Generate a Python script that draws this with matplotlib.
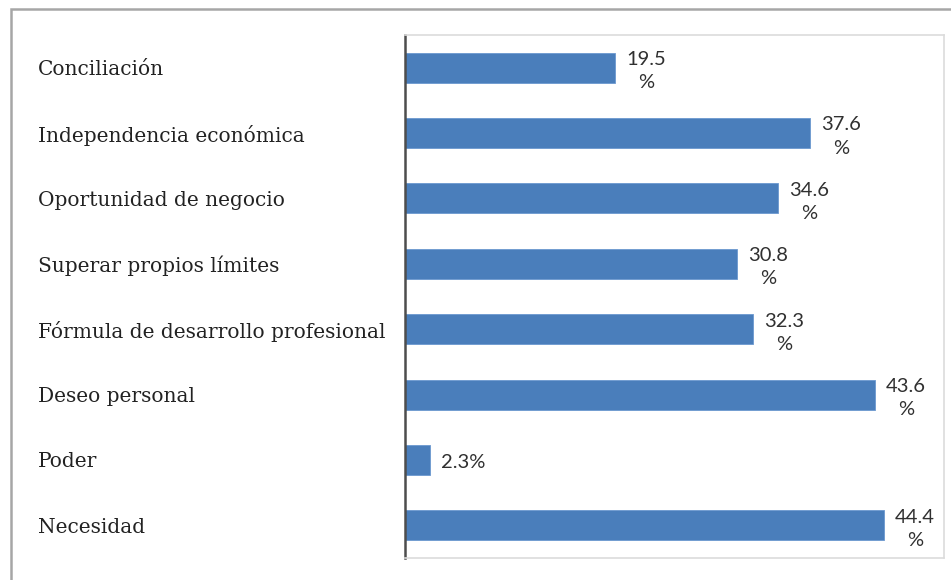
import matplotlib.pyplot as plt
from matplotlib.patches import Rectangle

# Motivos para emprender (% de respuestas)
motivos = ['Conciliación', 'Independencia económica', 'Oportunidad de negocio',
           'Superar propios límites', 'Fórmula de desarrollo profesional',
           'Deseo personal', 'Poder', 'Necesidad']
porcentajes = [19.5, 37.6, 34.6, 30.8, 32.3, 43.6, 2.3, 44.4]

bar_color = '#4a7ebb'
text_color = '#222222'

fig = plt.figure(figsize=(9.51, 5.8), dpi=100)
ax = fig.add_axes([405/951, 1 - 558/580, 539/951, 523/580])

pos = list(range(len(motivos)))
ax.barh(pos, porcentajes, height=0.46, color=bar_color, edgecolor='#6b98cf', linewidth=0.6)
ax.set_ylim(len(motivos) - 0.5, -0.5)
ax.set_xlim(0, 50)

# category names, left aligned at the left of the frame
ax.set_yticks(pos)
ax.set_yticklabels(motivos, ha='left', family='DejaVu Serif', fontsize=14.5, color=text_color)
ax.tick_params(axis='y', length=0, pad=264)
ax.set_xticks([])

# value labels: wrap the % onto a second line except for short bars
for p, v in zip(pos, porcentajes):
    if v < 10:
        label, dy = f'{v:.1f}%', -1.5
    else:
        label, dy = f'{v:.1f}\n%', -2.5
    ax.annotate(label, (v, p), xytext=(8, dy), textcoords='offset points',
                ha='left', va='center', multialignment='center',
                family='Lato', fontsize=14.5, color='#303030', linespacing=1.45)

for side in ['top', 'right', 'bottom']:
    ax.spines[side].set_color('#dcdcdc')
    ax.spines[side].set_linewidth(1.2)
ax.spines['left'].set_color('#4d4d4d')
ax.spines['left'].set_linewidth(1.8)

# outer frame
fig.patches.append(Rectangle((11/951, -0.1), 1.0, 1.1 - 9/580, transform=fig.transFigure,
                             fill=False, edgecolor='#a6a6a6', linewidth=1.8))

fig.savefig('out.png', dpi=100)
